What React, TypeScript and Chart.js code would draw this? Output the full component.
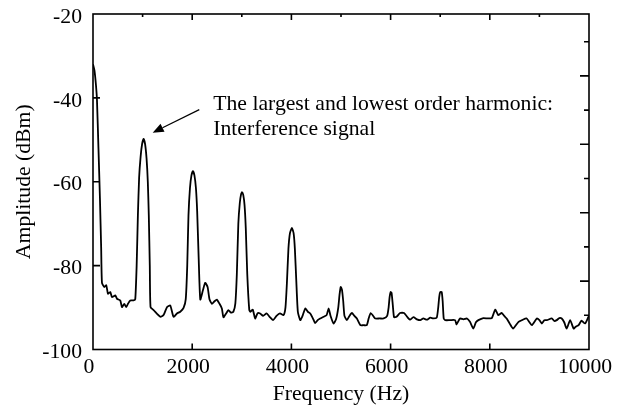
import React, { useEffect, useRef } from "react";
import { Chart, registerables } from "chart.js";

Chart.register(...registerables);

// ---- data ----
const freqHz: number[] = [
  0, 30, 60, 80, 110, 140, 165, 181, 228, 268, 302, 349, 383, 450, 484, 550, 584, 631, 671, 705, 752, 818, 852,
  880, 905, 930, 960, 990, 1020, 1050, 1080, 1105, 1125, 1145, 1160,
  1222, 1356, 1423, 1491, 1558, 1624, 1692, 1759, 1826, 1870,
  1900, 1925, 1955, 1985, 2015, 2045, 2075, 2100, 2130, 2163,
  2216, 2263, 2310, 2350, 2397, 2450, 2497, 2551, 2598, 2630, 2680, 2730, 2780, 2830, 2870,
  2900, 2930, 2960, 2985, 3005, 3030, 3055, 3080, 3110, 3150,
  3170, 3220, 3270, 3320, 3370, 3430, 3500, 3560, 3630, 3700, 3770, 3840, 3880,
  3910, 3940, 3970, 4010, 4045, 4070, 4100, 4130,
  4180, 4230, 4280, 4330, 4380, 4430, 4480, 4530, 4580, 4650, 4710, 4750, 4790, 4850, 4900, 4945,
  4970, 4995, 5020, 5045, 5070,
  5120, 5170, 5220, 5270, 5320, 5390, 5450, 5520, 5560, 5600, 5650, 5690, 5780, 5860, 5930, 5960,
  5980, 6000, 6020, 6045, 6070,
  6120, 6190, 6270, 6360, 6390, 6460, 6530, 6600, 6660, 6730, 6800, 6860, 6930, 6960,
  6980, 7000, 7030, 7050, 7070,
  7100, 7200, 7300, 7330, 7400, 7470, 7540, 7600, 7670, 7720, 7770, 7870, 7960, 8040, 8110, 8170, 8240, 8290,
  8340, 8400, 8470, 8580, 8650, 8740, 8800, 8850, 8950, 9000, 9050, 9100, 9150, 9250, 9300, 9350, 9400, 9450,
  9500, 9550, 9620, 9690, 9740, 9790, 9850, 9920, 9990, 10000,
];

const amplitudeDbm: number[] = [
  -32, -33.5, -37, -40.5, -52, -64, -76, -84.1, -85.1, -84.7, -86.7, -86.3, -87.5, -87.1, -87.9, -88.3, -89.9, -89.1, -89.9, -89.1, -88.3, -88.3, -88,
  -80, -68, -59, -54, -51, -49.8, -51, -54.5, -60, -68, -80, -89.9,
  -90.6, -92.2, -91.8, -89.9, -89.5, -92.2, -91.4, -91, -90.1, -88,
  -80, -68, -61.5, -58.5, -57.5, -58.5, -61.5, -67, -78, -88.1,
  -85.9, -84.1, -85.1, -88.1, -89.1, -88.5, -88.1, -89.1, -90.2, -92.3, -91.5, -90.6, -91.2, -91, -89,
  -82, -70, -65, -63, -62.5, -63.2, -65.5, -71, -82, -90.5,
  -91, -90.5, -92.6, -91.3, -91.4, -92, -91.4, -92.2, -93, -92, -91.4, -91.8, -90,
  -84, -76, -72.3, -71, -72.3, -76, -84, -91,
  -93, -91.8, -90.2, -91, -91.4, -92.5, -93.7, -93, -92.6, -92.2, -91.8, -90.2, -92, -93.8, -92.8, -90,
  -87, -85.1, -85.8, -88.5, -92,
  -93, -92, -91.3, -92, -92.6, -94.2, -94.2, -94.2, -92.5, -91.3, -92, -92.6, -92.6, -92.6, -92, -90,
  -87.5, -86.3, -86.5, -89.5, -92.3,
  -92.2, -91.3, -91.3, -92.6, -92.9, -92.3, -92.8, -93, -92.6, -92.9, -92.4, -92.6, -92.4, -90,
  -87.5, -86.3, -86.3, -88.5, -92.5,
  -93, -93, -93, -94, -92.6, -92.8, -92.6, -93.4, -95, -93.5, -93, -92.5, -92.6, -92.5, -90.5, -91.8, -91.3, -92,
  -92.6, -93.8, -95, -93.4, -93, -92.6, -93.5, -94.2, -92.6, -93, -93.8, -93, -93, -92.6, -93.2, -93, -92.5, -92.6,
  -93.5, -95, -93, -95, -94.5, -94.2, -93.1, -93.8, -92.2, -92.2,
];

const xTickValues: number[] = [0, 2000, 4000, 6000, 8000, 10000];
const yTickValues: number[] = [-100, -80, -60, -40, -20];
const topMinorTicks: number[] = [1000, 3000, 5000, 7000, 9000];
const topMajorTicks: number[] = [2000, 4000, 6000, 8000];
const bottomTicks: number[] = [2000, 4000, 6000, 8000];
const leftTicks: number[] = [-40, -60, -80];
const rightTickCount = 9;
const rightTickStep = 80 / 9.81;

const annotationLines: string[] = ["The largest and lowest order harmonic:", "Interference signal"];
const annotationAnchor = { x: 2425, y: -42.9 };
const arrowFrom = { x: 2143, y: -42.8 };
const arrowTo = { x: 1203, y: -48.3 };

const FONT = "'Liberation Serif', 'Times New Roman', serif";
const FS = 21.7;

const framePlugin = {
  id: "framePlugin",
  afterDraw(chart: any) {
    const { ctx, chartArea: a, scales } = chart;
    const xs = scales.x;
    const ys = scales.y;
    ctx.save();
    ctx.strokeStyle = "#000";
    ctx.lineWidth = 1.6;
    ctx.strokeRect(a.left, a.top, a.right - a.left, a.bottom - a.top);
    ctx.beginPath();
    for (const v of bottomTicks) {
      const px = xs.getPixelForValue(v);
      ctx.moveTo(px, a.bottom);
      ctx.lineTo(px, a.bottom - 6);
    }
    for (const v of topMajorTicks) {
      const px = xs.getPixelForValue(v);
      ctx.moveTo(px, a.top);
      ctx.lineTo(px, a.top + 6);
    }
    for (const v of topMinorTicks) {
      const px = xs.getPixelForValue(v);
      ctx.moveTo(px, a.top);
      ctx.lineTo(px, a.top + 3);
    }
    for (const v of leftTicks) {
      const py = ys.getPixelForValue(v);
      ctx.moveTo(a.left, py);
      ctx.lineTo(a.left + 7, py);
    }
    for (let k = 1; k <= rightTickCount; k++) {
      const py = ys.getPixelForValue(-100 + k * rightTickStep);
      const len = k % 2 === 0 ? 9 : 5;
      ctx.moveTo(a.right, py);
      ctx.lineTo(a.right - len, py);
    }
    ctx.stroke();

    // annotation text
    ctx.fillStyle = "#000";
    ctx.font = `${FS}px ${FONT}`;
    ctx.textAlign = "left";
    ctx.textBaseline = "alphabetic";
    const tx = xs.getPixelForValue(annotationAnchor.x);
    const ty = ys.getPixelForValue(annotationAnchor.y);
    annotationLines.forEach((line, i) => ctx.fillText(line, tx, ty + i * 25));

    // arrow
    const x1 = xs.getPixelForValue(arrowFrom.x);
    const y1 = ys.getPixelForValue(arrowFrom.y);
    const x2 = xs.getPixelForValue(arrowTo.x);
    const y2 = ys.getPixelForValue(arrowTo.y);
    const ang = Math.atan2(y2 - y1, x2 - x1);
    const headLen = 11;
    const headW = 4.5;
    const bx = x2 - headLen * Math.cos(ang);
    const by = y2 - headLen * Math.sin(ang);
    ctx.lineWidth = 1.2;
    ctx.beginPath();
    ctx.moveTo(x1, y1);
    ctx.lineTo(bx, by);
    ctx.stroke();
    ctx.beginPath();
    ctx.moveTo(x2, y2);
    ctx.lineTo(bx + headW * Math.sin(ang), by - headW * Math.cos(ang));
    ctx.lineTo(bx - headW * Math.sin(ang), by + headW * Math.cos(ang));
    ctx.closePath();
    ctx.fill();
    ctx.restore();
  },
};

export default function App() {
  const ref = useRef<HTMLCanvasElement | null>(null);

  useEffect(() => {
    if (!ref.current) return;
    const points = freqHz.map((f, i) => ({ x: f, y: amplitudeDbm[i] }));
    const chart = new Chart(ref.current, {
      type: "line",
      data: {
        datasets: [
          {
            data: points,
            borderColor: "#000",
            borderWidth: 1.8,
            pointRadius: 0,
            tension: 0.18,
            fill: false,
          },
        ],
      },
      options: {
        animation: false,
        responsive: false,
        layout: { padding: { top: 14, right: 33, left: 0, bottom: 0 } },
        plugins: { legend: { display: false }, tooltip: { enabled: false } },
        scales: {
          x: {
            type: "linear",
            min: 0,
            max: 10000,
            afterBuildTicks: (scale: any) => {
              scale.ticks = xTickValues.map((v) => ({ value: v }));
            },
            afterFit: (scale: any) => {
              scale.height = 59.5;
              scale.paddingLeft = 0;
              scale.paddingRight = 0;
            },
            grid: { display: false, drawTicks: false },
            border: { display: false },
            ticks: {
              color: "#000",
              font: { family: FONT, size: FS },
              padding: 5,
              labelOffset: -4,
              maxRotation: 0,
              autoSkip: false,
              callback: (v: any) => String(v),
            },
            title: {
              display: true,
              text: "Frequency (Hz)",
              color: "#000",
              font: { family: FONT, size: FS },
              padding: { top: 0, bottom: 2 },
            },
          },
          y: {
            type: "linear",
            min: -100,
            max: -20,
            afterBuildTicks: (scale: any) => {
              scale.ticks = yTickValues.map((v) => ({ value: v }));
            },
            afterFit: (scale: any) => {
              scale.width = 93;
              scale.paddingTop = 0;
              scale.paddingBottom = 0;
            },
            grid: { display: false, drawTicks: false },
            border: { display: false },
            ticks: {
              color: "#000",
              font: { family: FONT, size: FS },
              padding: 11,
              labelOffset: 3,
              autoSkip: false,
              callback: (v: any) => String(v),
            },
            title: {
              display: true,
              text: "Amplitude (dBm)",
              color: "#000",
              font: { family: FONT, size: FS },
              padding: { top: 11, bottom: 0 },
            },
          },
        },
      },
      plugins: [framePlugin],
    });
    return () => chart.destroy();
  }, []);

  return (
    <div style={{ position: "fixed", left: 0, top: 0, width: 622, height: 409, background: "#fff" }}>
      <canvas ref={ref} width={622} height={409} style={{ display: "block" }} />
    </div>
  );
}
